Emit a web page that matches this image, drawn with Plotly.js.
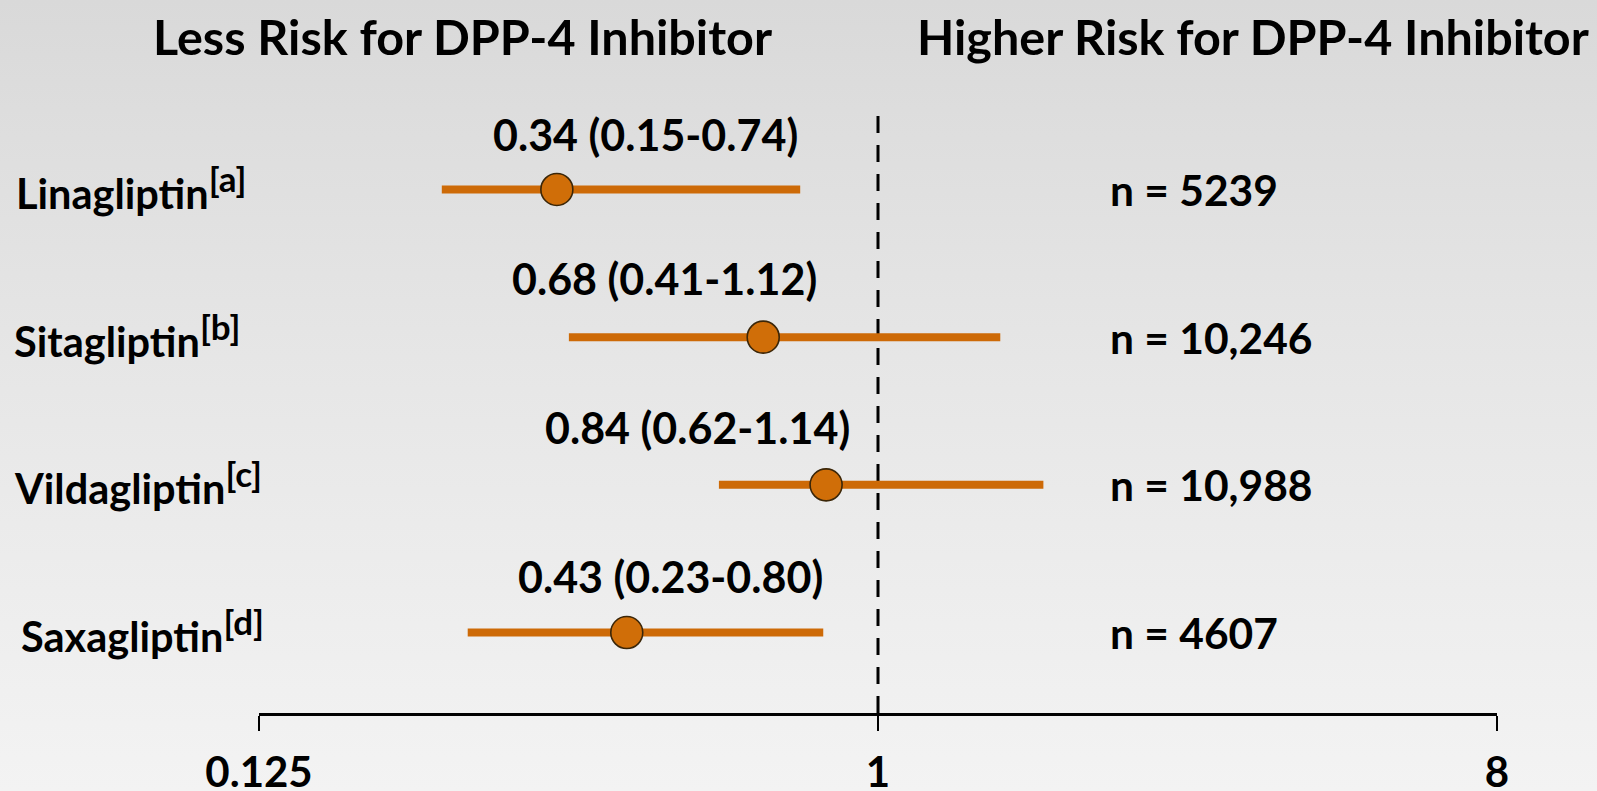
<!DOCTYPE html>
<html>
<head>
<meta charset="utf-8">
<script src="https://cdn.plot.ly/plotly-3.0.1.min.js"></script>
<style>
  html, body { margin: 0; padding: 0; }
  body { width: 1597px; height: 791px; overflow: hidden;
         background: linear-gradient(to bottom, #d9d9d9 0%, #e6e6e6 45%, #f3f3f3 100%); }
  #chart { width: 1597px; height: 791px; }
</style>
</head>
<body>
<div id="chart"></div>
<script>
// ---- data ----
const drugs = ["Linagliptin", "Sitagliptin", "Vildagliptin", "Saxagliptin"];
const refs = ["[a]", "[b]", "[c]", "[d]"];
const estimates = [0.34, 0.68, 0.84, 0.43];
const ciLabels = ["0.34 (0.15-0.74)", "0.68 (0.41-1.12)", "0.84 (0.62-1.14)", "0.43 (0.23-0.80)"];
// interval ends as drawn in the picture
const ciLowDrawn = [0.231, 0.354, 0.586, 0.252];
const ciHighDrawn = [0.770, 1.508, 1.743, 0.832];
const sampleSizes = ["n = 5239", "n = 10,246", "n = 10,988", "n = 4607"];
const tickVals = [0.125, 1, 8];
const tickText = ["0.125", "1", "8"];
const leftTitle = "Less Risk for DPP-4 Inhibitor";
const rightTitle = "Higher Risk for DPP-4 Inhibitor";

// ---- layout constants ----
const W = 1597, H = 791;
const M = { l: 259, r: 100, t: 110, b: 78 };
const PW = W - M.l - M.r, PH = H - M.t - M.b;
const px = x => (x - M.l) / PW;
const py = y => (H - M.b - y) / PH;
const FONT = "Lato, 'Open Sans', sans-serif";
const orange = "#CD6A07";

const rowLabelX = [14, 12, 12, 19];
const ciLabelX = [645, 664, 697, 670];
const ciLabelShift = [-54, -58, -56, -55];

const trace = {
  type: "scatter",
  mode: "markers",
  x: estimates,
  y: drugs,
  error_x: {
    type: "data",
    symmetric: false,
    array: estimates.map((e, i) => ciHighDrawn[i] - e),
    arrayminus: estimates.map((e, i) => e - ciLowDrawn[i]),
    color: orange,
    thickness: 8,
    width: 0
  },
  marker: { size: 32, color: "#D06E08", line: { color: "#3b2608", width: 1.6 } },
  hoverinfo: "skip",
  showlegend: false,
  cliponaxis: false
};

const annotations = [];
annotations.push({ xref: "paper", yref: "paper", x: px(462), y: py(36), text: leftTitle,
  showarrow: false, xanchor: "center", yanchor: "middle",
  font: { family: FONT, size: 48.5, color: "#000", weight: "bold" } });
annotations.push({ xref: "paper", yref: "paper", x: px(1253), y: py(36), text: rightTitle,
  showarrow: false, xanchor: "center", yanchor: "middle",
  font: { family: FONT, size: 48.5, color: "#000", weight: "bold" } });

drugs.forEach((d, i) => {
  annotations.push({ xref: "paper", yref: "y", x: px(rowLabelX[i]), y: d,
    text: d + "<sup><span style='font-size:35px'>" + refs[i] + "</span></sup>",
    showarrow: false, xanchor: "left", yanchor: "middle",
    yshift: 2,
    font: { family: FONT, size: 41.5, color: "#000", weight: "bold" } });
  annotations.push({ xref: "paper", yref: "y", x: px(ciLabelX[i]), y: d, yshift: -ciLabelShift[i] + 1,
    text: ciLabels[i], showarrow: false, xanchor: "center", yanchor: "middle",
    font: { family: FONT, size: 43, color: "#000", weight: "bold" } });
  annotations.push({ xref: "paper", yref: "y", x: px(1108), y: d,
    text: sampleSizes[i], showarrow: false, xanchor: "left", yanchor: "middle",
    font: { family: FONT, size: 42.5, color: "#000", weight: "bold" } });
});

const layout = {
  width: W, height: H,
  margin: M,
  paper_bgcolor: "rgba(0,0,0,0)",
  plot_bgcolor: "rgba(0,0,0,0)",
  showlegend: false,
  xaxis: {
    type: "log",
    range: [Math.log10(0.125), Math.log10(8)],
    tickmode: "array", tickvals: tickVals, ticktext: tickText,
    showgrid: false, zeroline: false,
    showline: true, linecolor: "#000", linewidth: 3,
    ticks: "outside", ticklen: 15, tickwidth: 2.5, tickcolor: "#000",
    ticklabelstandoff: 6,
    tickfont: { family: FONT, size: 42, color: "#000", weight: "bold" },
    fixedrange: true
  },
  yaxis: {
    type: "category",
    categoryorder: "array", categoryarray: drugs,
    range: [3.545, -0.538],
    showgrid: false, zeroline: false, showline: false,
    showticklabels: false, ticks: "",
    fixedrange: true
  },
  shapes: [{
    type: "line", xref: "x", yref: "paper", x0: 1, x1: 1, y0: 0, y1: 1,
    line: { color: "#000", width: 3, dash: "17px,12px" }, layer: "below"
  }],
  annotations: annotations
};

Plotly.newPlot("chart", [trace], layout, { displayModeBar: false, staticPlot: true });
</script>
</body>
</html>
